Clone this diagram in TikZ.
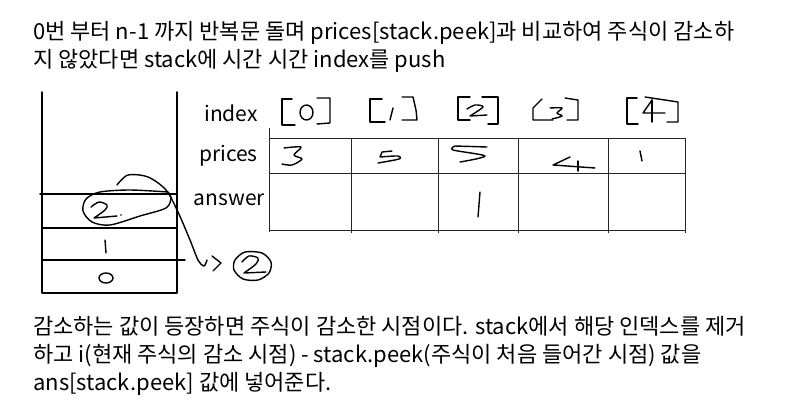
\documentclass[tikz,border=0pt]{standalone}
\usepackage{fontspec}
\setmainfont{Noto Sans CJK KR}
\usetikzlibrary{positioning,calc}
\tikzset{
  pen/.style={line width=1.4pt, line cap=round, line join=round},
  grid/.style={line width=1pt, black!85},
  txt/.style={font=\fontsize{22}{26}\selectfont, inner sep=0pt, anchor=base west},
  lbl/.style={font=\fontsize{21}{25}\selectfont, inner sep=0pt, anchor=base east}
}
\begin{document}
\begin{tikzpicture}[x=1pt,y=-1pt]
    \useasboundingbox (0,0) rectangle (790,402);
    % Explanation on top
    \node[txt] (top1) at (33,39) {0번 부터 n-1 까지 반복문 돌며 prices[stack.peek]과 비교하여 주식이 감소하};
    \node[txt] (top2) at (33,67) {지 않았다면 stack에 시간 시간 index를 push};

    % Stack
    \draw[pen] (42,92) -- (42,293) -- (177,293) -- (177,92);
    \draw[pen] (40,194) -- (177,194);
    \draw[pen] (42,228) -- (177,228);
    \draw[pen] (42,260) -- (185,260);
    \draw[pen] (106,278) ellipse [x radius=7, y radius=5]; % 0
    \draw[pen] (105,240) -- (106,253); % 1
    \draw[pen] plot[smooth] coordinates {(91,207) (99,202) (107,205) (105,210) (94,218)} -- (117,216); % 2
    \fill (121,215) circle (0.8);
    \draw[pen] plot[smooth] coordinates {(168,192) (130,190) (100,192) (86,199) (83,211) (92,222) (110,225) (140,216) (166,208) (171,198) (168,192)}; % loop round 2

    % Popped index
    \coordinate (from) at (117,185);
    \coordinate (tip) at (213,263);
    \draw[pen] plot[smooth] coordinates {(from) (128,175) (148,177) (166,190) (178,212) (190,240) (198,260) (204,266) (207,260)};
    \draw[pen] ($(tip)+(-1,-7)$) -- ($(tip)+(8,0)$) -- ($(tip)+(0,8)$);
    \draw[pen] plot[smooth cycle] coordinates {(262,253) (245,252) (235,260) (234,270) (243,279) (258,280) (269,273) (271,262)};
    \draw[pen] plot[smooth] coordinates {(242,262) (249,256) (258,258) (256,264) (244,273)} -- (266,272);

    % Table
    \node[lbl] (lblindex) at (258,121) {index};
    \node[lbl] (lblprices) at (258,161) {prices};
    \node[lbl] (lblanswer) at (265,205) {answer};
    \draw[grid] (269,128) -- (269,232);
    \foreach \x in {351,438,518,608,685}
        \draw[grid] (\x,138) -- (\x,233); % Columns
    \foreach \y in {138,173,230}
        \draw[grid] (269,\y) -- (685,\y); % Rows

    % [0] .. [4]
    \draw[pen] (292,99) -- (282,99) -- (282,125) -- (295,125);
    \draw[pen] (306.5,112.5) ellipse [x radius=6.5, y radius=7.5];
    \draw[pen] (317,98) -- (330,98) -- (330,123) -- (317,124);
    \draw[pen] (382,99) -- (370,99) -- (370,122) -- (385,122);
    \draw[pen] (393,108) -- (390,120);
    \draw[pen] (402,97) -- (413,97) -- (416,110) -- (417,120) -- (402,120);
    \draw[pen] (470,97) -- (458,97) -- (458,120) -- (470,120);
    \draw[pen] plot[smooth] coordinates {(467,109) (475,105) (483,107) (470,116)} -- (487,115);
    \draw[pen] (482,97) -- (498,97) -- (498,124) -- (488,124);
    \draw[pen] (542,99) -- (533,108) -- (533,120) -- (553,120);
    \draw[pen] plot[smooth] coordinates {(550,108) (562,108) (557,113) (562,116) (552,119)};
    \draw[pen] (565,98) -- (578,100) -- (578,120) -- (567,120);
    \draw[pen] (637,98) -- (627,98) -- (627,124) -- (638,124);
    \draw[pen] (652,100) -- (643,113) -- (665,113);
    \draw[pen] (652,100) -- (652,122);
    \draw[pen] (645,97) -- (678,102) -- (678,122) -- (667,122);

    % prices
    \draw[pen] plot[smooth] coordinates {(284,148) (301,147) (294,155) (302,159) (292,165) (282,164)};
    \draw[pen] (392,151) -- (382,152) -- (380,157) plot[smooth] coordinates {(380,157) (398,156) (399,159) (378,163)};
    \draw[pen] (487,147) -- (455,146) plot[smooth] coordinates {(455,146) (453,150) (485,156) (460,162)};
    \draw[pen] (570,157) -- (553,165) -- (595,168);
    \draw[pen] (578,161) -- (578,171);
    \draw[pen] (640,151) -- (642,161);

    % answer
    \draw[pen] (480,192) -- (478,217);

    % Explanation below
    \node[txt] (bot1) at (33,334) {감소하는 값이 등장하면 주식이 감소한 시점이다. stack에서 해당 인덱스를 제거};
    \node[txt] (bot2) at (33,362) {하고 i(현재 주식의 감소 시점) - stack.peek(주식이 처음 들어간 시점) 값을};
    \node[txt] (bot3) at (33,390) {ans[stack.peek] 값에 넣어준다.};
\end{tikzpicture}
\end{document}
